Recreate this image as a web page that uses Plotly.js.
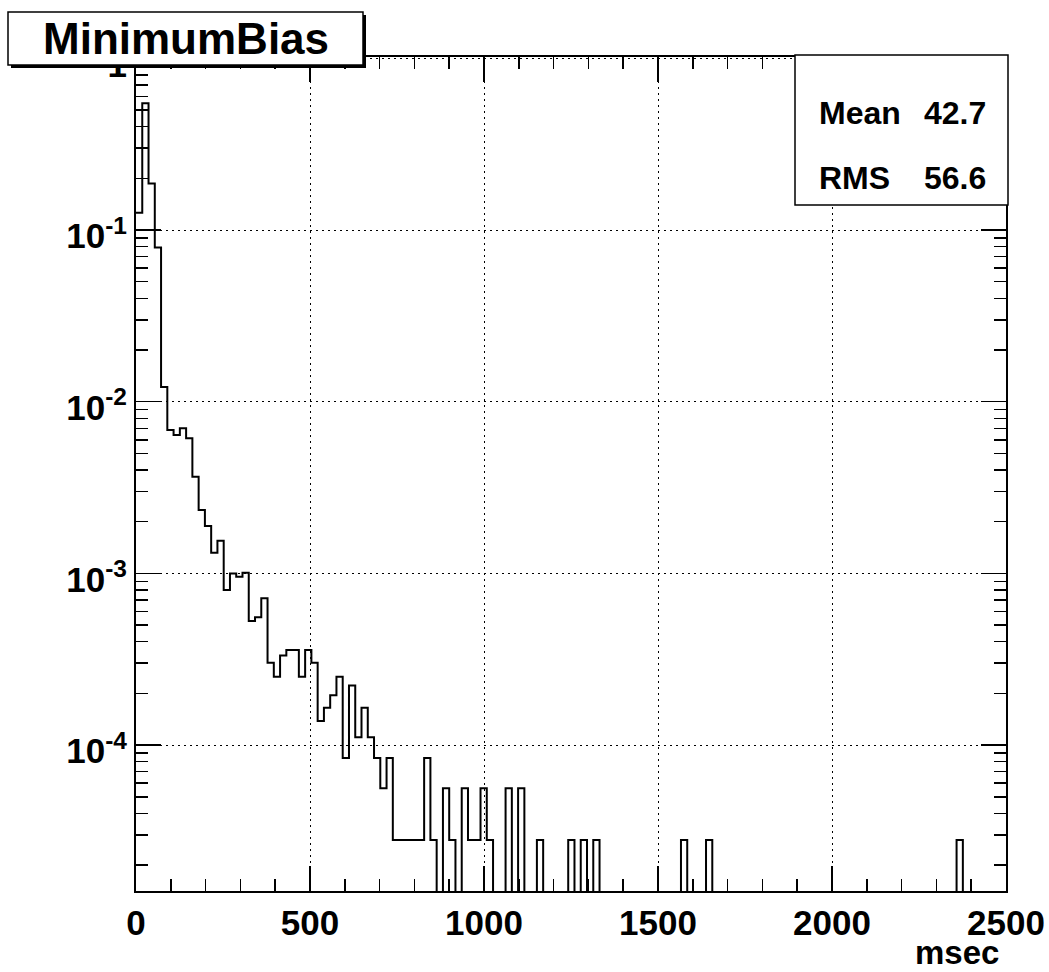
<!DOCTYPE html>
<html><head><meta charset="utf-8">
<script src="https://cdn.plot.ly/plotly-3.0.1.min.js"></script>
<style>html,body{margin:0;padding:0;background:#fff}#chart{width:1049px;height:972px}</style>
</head><body><div id="chart"></div>
<script>
// ---- data (normalised bin contents, 18 msec bins starting at 0) ----
const binStart = 0;
const binWidth = 18;
const binContents = [
  0.126, 0.547, 0.187, 0.0792, 0.0122, 0.00684, 0.0064, 0.0070, 0.00612, 0.00366,
  0.00234, 0.00189, 0.00132, 0.00155, 0.00080, 0.00100, 0.000956, 0.00101, 0.000528, 0.000555,
  0.000716, 0.000302, 0.000250, 0.000332, 0.000358, 0.000358, 0.000250, 0.000358, 0.000302, 0.000138,
  0.000165, 0.000195, 0.000250, 0.000084, 0.000222, 0.000111, 0.000165, 0.000111, 0.000084, 0.000056,
  0.000084, 0.000028, 0.000028, 0.000028, 0.000028, 0.000028, 0.000084, 0.000028, 0, 0.000056,
  0.000028, 0, 0.000056, 0.000028, 0.000028, 0.000056, 0.000028, 0, 0, 0.000056,
  0, 0.000056, 0, 0, 0.000028, 0, 0, 0, 0, 0.000028,
  0, 0.000028, 0, 0.000028, 0, 0, 0, 0, 0, 0,
  0, 0, 0, 0, 0, 0, 0, 0.000028, 0, 0,
  0, 0.000028, 0, 0, 0, 0, 0, 0, 0, 0,
  0, 0, 0, 0, 0, 0, 0, 0, 0, 0,
  0, 0, 0, 0, 0, 0, 0, 0, 0, 0,
  0, 0, 0, 0, 0, 0, 0, 0, 0, 0,
  0, 0.000028, 0, 0, 0, 0, 0, 0, 0
];
const histTitle = 'MinimumBias';
const xAxisLabel = 'msec';
const statLabels = ['Mean', 'RMS'];
const statValues = ['42.7', '56.6'];
const xRange = [0, 2500];
const xMajorStep = 500;
const xMinorStep = 100;
const yTickVals = [1, 1e-1, 1e-2, 1e-3, 1e-4];
const yTickText = ['1', '10<sup>-1</sup>', '10<sup>-2</sup>', '10<sup>-3</sup>', '10<sup>-4</sup>'];

// ---- build step outline (empty bins drop below the log floor) ----
const LOG_FLOOR = 1e-9;
const xs = [], ys = [];
for (let i = 0; i < binContents.length; i++) {
  xs.push(binStart + i * binWidth);
  ys.push(binContents[i] > 0 ? binContents[i] : LOG_FLOOR);
}
xs.push(binStart + binContents.length * binWidth);
ys.push(ys[ys.length - 1]);

const FONT = 'Liberation Sans, Arial, Helvetica, sans-serif';
const trace = {
  type: 'scatter', mode: 'lines', x: xs, y: ys,
  line: {shape: 'hv', color: '#000', width: 2},
  hoverinfo: 'skip', showlegend: false
};

// plot area in px: x 136..1006, y 57..891
const W = 1049, H = 972, L = 136, R = 43, T = 57, B = 81;
const pw = W - L - R, ph = H - T - B;
const px = v => (v - L) / pw;
const py = v => (H - B - v) / ph;

const axisCommon = {
  ticks: 'inside', ticklen: 25, tickwidth: 1.5, tickcolor: '#000',
  showline: true, linewidth: 2, linecolor: '#000', mirror: 'ticks',
  showgrid: true, gridcolor: '#000', gridwidth: 1, griddash: '2px,4px',
  zeroline: false, fixedrange: true
};

const layout = {
  width: W, height: H,
  margin: {l: L, r: R, t: T, b: B, pad: 0},
  paper_bgcolor: '#fff', plot_bgcolor: '#fff',
  showlegend: false,
  xaxis: Object.assign({}, axisCommon, {
    range: xRange, tick0: 0, dtick: xMajorStep,
    tickfont: {family: FONT, size: 35, color: '#000', weight: 'bold'},
    minor: {dtick: xMinorStep, ticks: 'inside', ticklen: 12, tickwidth: 1.5, tickcolor: '#000', showgrid: false}
  }),
  yaxis: Object.assign({}, axisCommon, {
    type: 'log', range: [-4.85, 0.008],
    tickmode: 'array', tickvals: yTickVals, ticktext: yTickText,
    ticklabelshift: 6,
    tickfont: {family: FONT, size: 35, color: '#000', weight: 'bold'},
    minor: {tickmode: 'linear', tick0: 0, dtick: 'D1', ticks: 'inside', ticklen: 12, tickwidth: 1.5, tickcolor: '#000', showgrid: false}
  }),
  shapes: [
    // title box shadow + box
    {type: 'rect', xref: 'paper', yref: 'paper', layer: 'above',
     x0: px(11), x1: px(366), y0: py(15), y1: py(68),
     fillcolor: '#000', line: {width: 0}},
    {type: 'rect', xref: 'paper', yref: 'paper', layer: 'above',
     x0: px(8), x1: px(363), y0: py(12), y1: py(65),
     fillcolor: '#fff', line: {color: '#000', width: 1.5}},
    // stats box
    {type: 'rect', xref: 'paper', yref: 'paper', layer: 'above',
     x0: px(795), x1: px(1008), y0: py(55), y1: py(205),
     fillcolor: '#fff', line: {color: '#000', width: 1.5}}
  ],
  annotations: [
    {text: histTitle, xref: 'paper', yref: 'paper', x: px(185.5), y: py(38.5),
     xanchor: 'center', yanchor: 'middle', showarrow: false,
     font: {family: FONT, size: 44, color: '#000', weight: 'bold'}},
    {text: statLabels[0], xref: 'paper', yref: 'paper', x: px(817), y: py(113),
     xanchor: 'left', yanchor: 'middle', showarrow: false,
     font: {family: FONT, size: 32, color: '#000', weight: 'bold'}},
    {text: statValues[0], xref: 'paper', yref: 'paper', x: px(988), y: py(113),
     xanchor: 'right', yanchor: 'middle', showarrow: false,
     font: {family: FONT, size: 32, color: '#000', weight: 'bold'}},
    {text: statLabels[1], xref: 'paper', yref: 'paper', x: px(817), y: py(178),
     xanchor: 'left', yanchor: 'middle', showarrow: false,
     font: {family: FONT, size: 32, color: '#000', weight: 'bold'}},
    {text: statValues[1], xref: 'paper', yref: 'paper', x: px(988), y: py(178),
     xanchor: 'right', yanchor: 'middle', showarrow: false,
     font: {family: FONT, size: 32, color: '#000', weight: 'bold'}},
    {text: xAxisLabel, xref: 'paper', yref: 'paper', x: px(1001), y: py(952),
     xanchor: 'right', yanchor: 'middle', showarrow: false,
     font: {family: FONT, size: 33, color: '#000', weight: 'bold'}}
  ]
};

Plotly.newPlot('chart', [trace], layout, {staticPlot: true, displayModeBar: false});
</script>
</body></html>
